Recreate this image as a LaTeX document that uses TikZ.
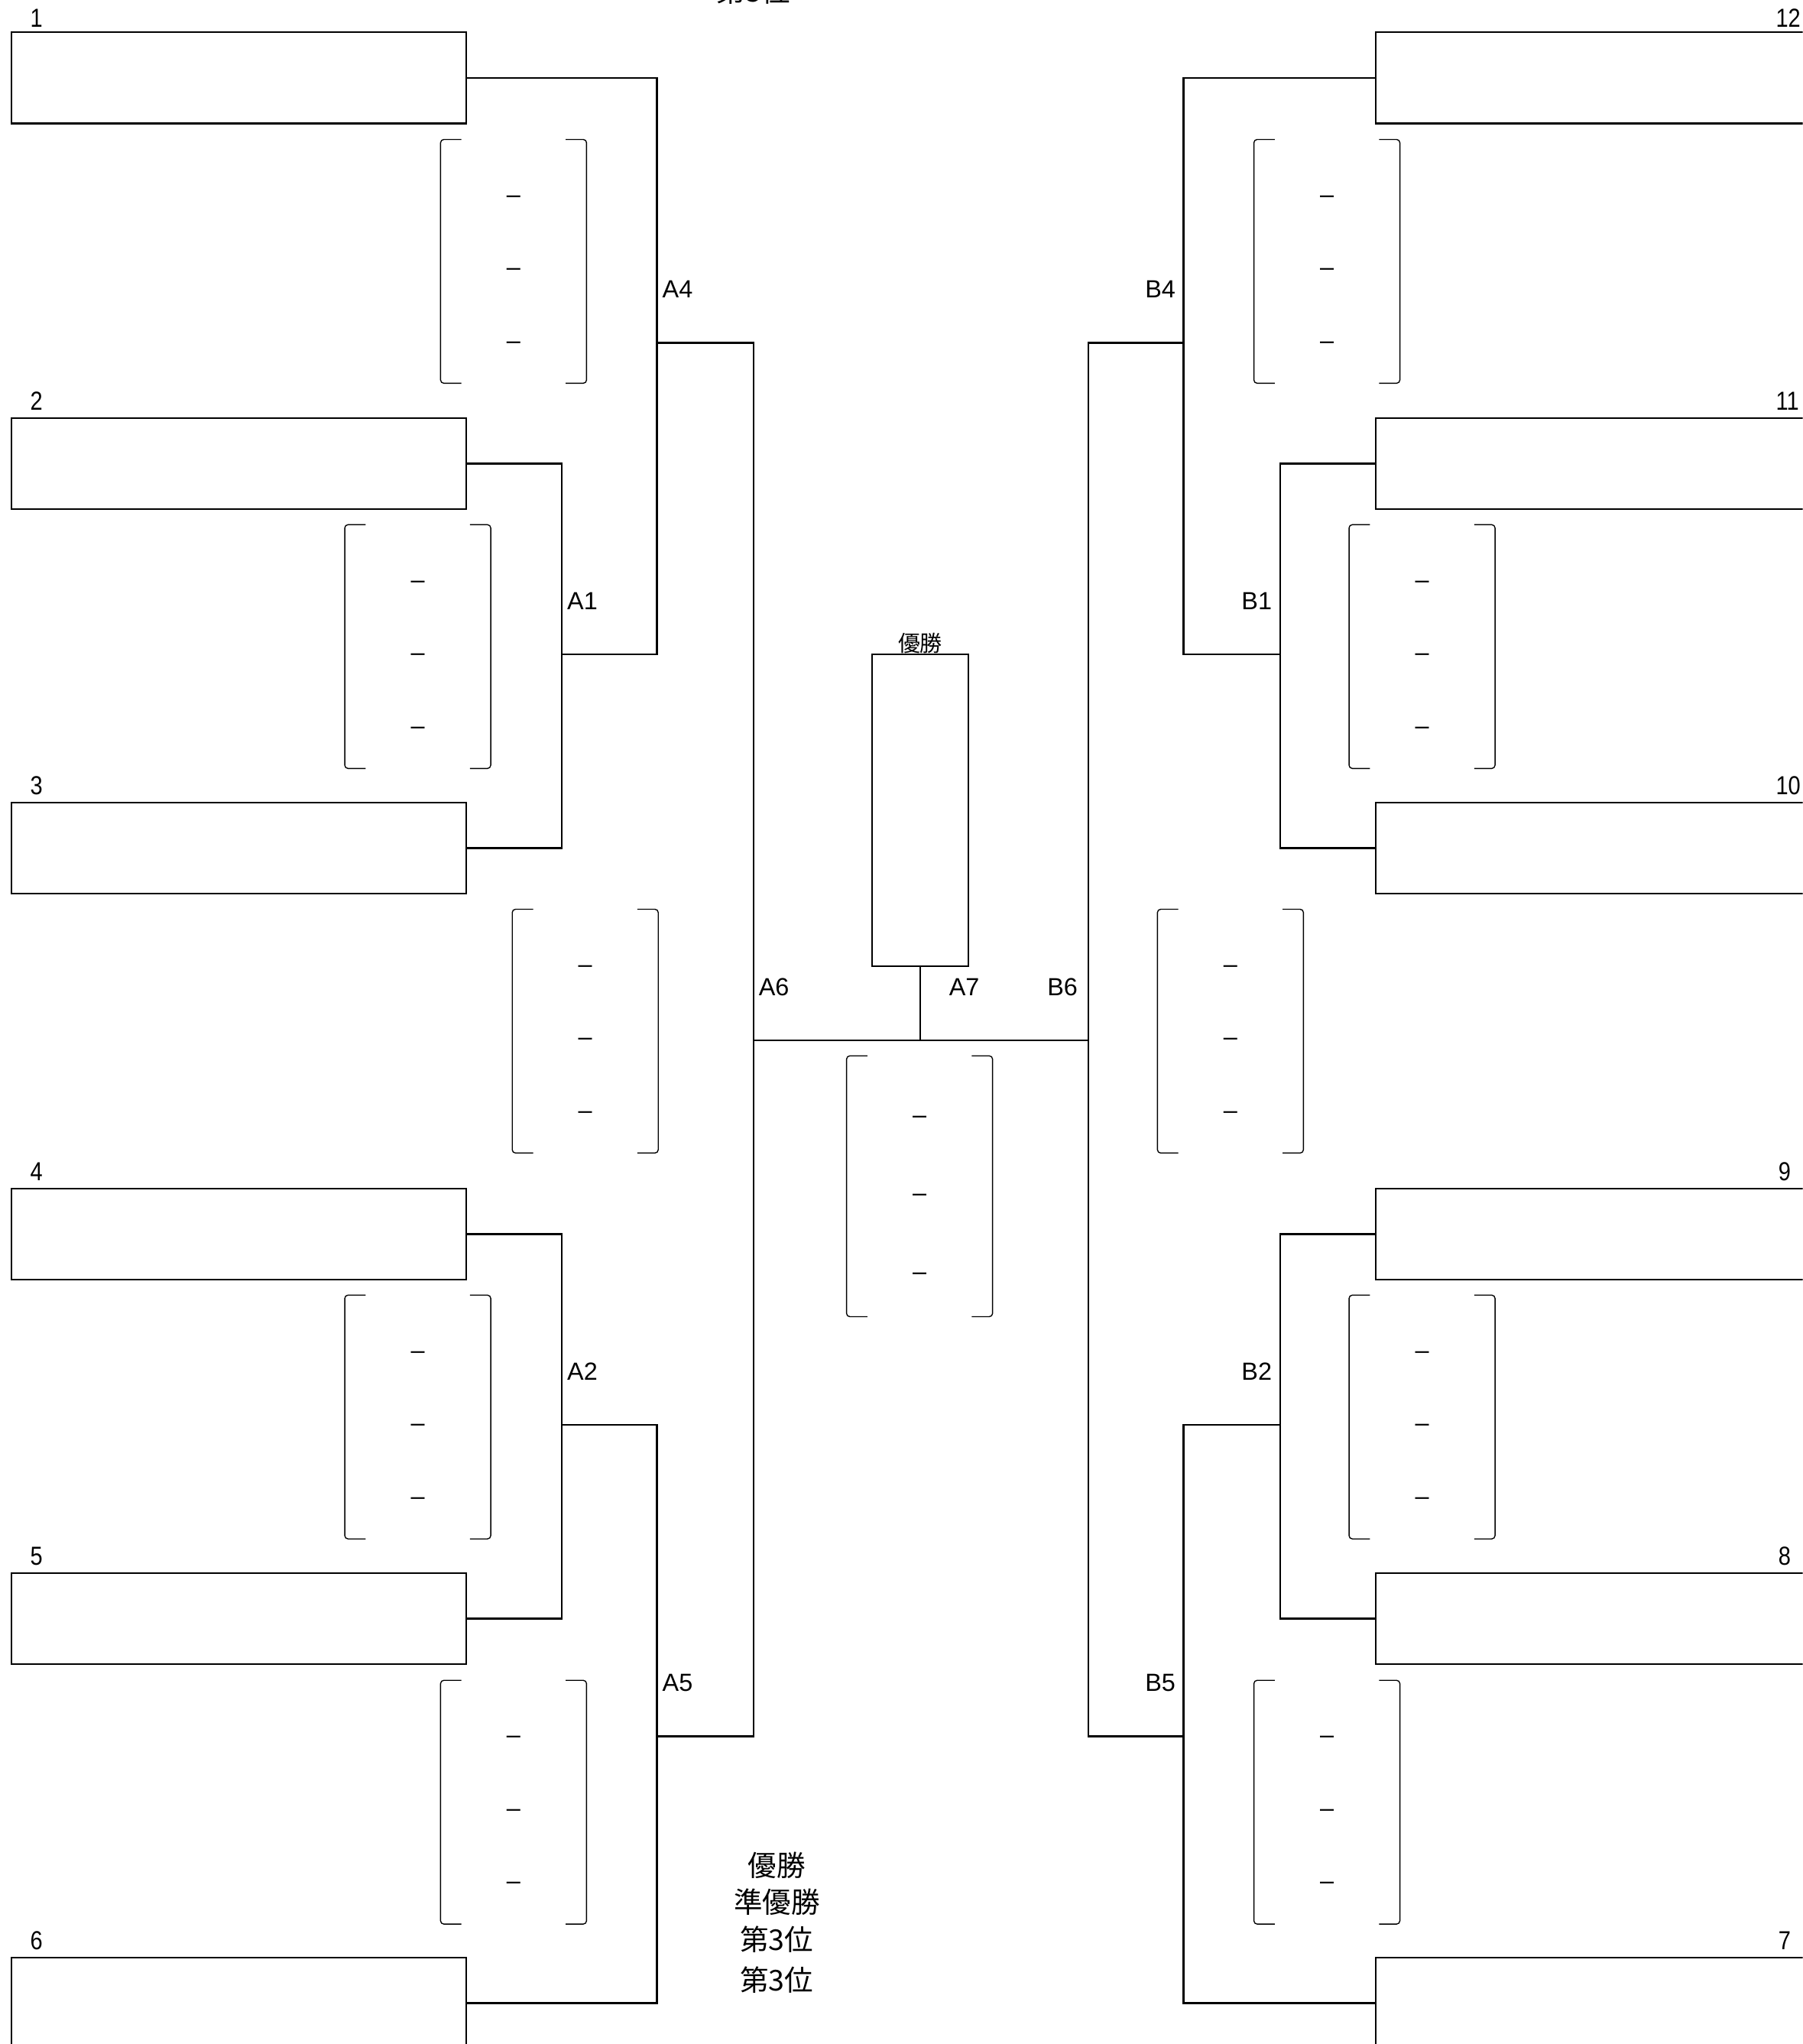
\documentclass[tikz,border=0pt]{standalone}
\usepackage{fontspec}
\setmainfont{Liberation Sans}
\newfontfamily\jpfont{Noto Sans CJK JP}
\newfontfamily\seedfont[FakeStretch=0.85]{Liberation Sans}
\usetikzlibrary{positioning, calc}

\begin{document}
\begin{tikzpicture}[
    x=1pt, y=-1pt,
    entry/.style={rectangle, draw, line width=1.3pt, minimum width=349pt, minimum height=70pt, inner sep=0pt, anchor=north west},
    champbox/.style={rectangle, draw, line width=1.3pt, minimum width=74pt, minimum height=239pt, inner sep=0pt},
    link/.style={draw, line width=1.3pt},
    bracketline/.style={draw, line width=0.8pt, rounded corners=2.5pt},
    scoredash/.style={font=\fontsize{19}{22}\selectfont, inner sep=0pt, anchor=base},
    roundlabel/.style={font=\fontsize{19}{22}\selectfont, inner sep=0pt},
    seedlabel/.style={font=\seedfont\fontsize{20}{24}\selectfont, inner sep=0pt},
    placetext/.style={font=\jpfont\fontsize{22}{26}\selectfont, inner sep=0pt},
    scorepair/.pic={
        \path [bracketline] (-40,-93.5) -- (-56,-93.5) -- (-56,93.5) -- (-40,93.5);
        \path [bracketline] (40,-93.5) -- (56,-93.5) -- (56,93.5) -- (40,93.5);
        \node [scoredash] (-g1) at (0,-45) {–};
        \node [scoredash] (-g2) at (0,11) {–};
        \node [scoredash] (-g3) at (0,67) {–};
    }
]
    \useasboundingbox (0,0) rectangle (1383,1568);
    \clip (0,0) rectangle (1383,1568);

    % Entries
    \node [entry] (p1) at (8,24) {};
    \node [entry] (p2) at (8,320) {};
    \node [entry] (p3) at (8,615) {};
    \node [entry] (p4) at (8,911) {};
    \node [entry] (p5) at (8,1206) {};
    \node [entry] (p6) at (8,1501) {};
    \node [entry] (p12) at (1055,24) {};
    \node [entry] (p11) at (1055,320) {};
    \node [entry] (p10) at (1055,615) {};
    \node [entry] (p9) at (1055,911) {};
    \node [entry] (p8) at (1055,1206) {};
    \node [entry] (p7) at (1055,1501) {};
    \node [champbox] (champ) at (706,621.5) {};

    % Seed numbers
    \node [seedlabel, anchor=south west] (n1) at ([xshift=15pt,yshift=3pt]p1.north west) {1};
    \node [seedlabel, anchor=south west] (n2) at ([xshift=15pt,yshift=5pt]p2.north west) {2};
    \node [seedlabel, anchor=south west] (n3) at ([xshift=15pt,yshift=5pt]p3.north west) {3};
    \node [seedlabel, anchor=south west] (n4) at ([xshift=15pt,yshift=5pt]p4.north west) {4};
    \node [seedlabel, anchor=south west] (n5) at ([xshift=15pt,yshift=5pt]p5.north west) {5};
    \node [seedlabel, anchor=south west] (n6) at ([xshift=15pt,yshift=5pt]p6.north west) {6};
    \node [seedlabel, anchor=south west] (n12) at ([xshift=-43pt,yshift=3pt]p12.north east) {12};
    \node [seedlabel, anchor=south west] (n11) at ([xshift=-43pt,yshift=5pt]p11.north east) {11};
    \node [seedlabel, anchor=south west] (n10) at ([xshift=-43pt,yshift=5pt]p10.north east) {10};
    \node [seedlabel, anchor=south west] (n9) at ([xshift=-41pt,yshift=5pt]p9.north east) {9};
    \node [seedlabel, anchor=south west] (n8) at ([xshift=-41pt,yshift=5pt]p8.north east) {8};
    \node [seedlabel, anchor=south west] (n7) at ([xshift=-41pt,yshift=5pt]p7.north east) {7};
    \node [placetext, font=\jpfont\fontsize{17}{20}\selectfont, above=0pt of champ] (champlabel) {優勝};

    % Match points
    \coordinate (A1) at (431,502);
    \coordinate (A2) at (431,1093);
    \coordinate (A4) at (504,263);
    \coordinate (A5) at (504,1332);
    \coordinate (A6) at (578,798);
    \coordinate (B1) at (982,502);
    \coordinate (B2) at (982,1093);
    \coordinate (B4) at (908,263);
    \coordinate (B5) at (908,1332);
    \coordinate (B6) at (835,798);
    \coordinate (A7) at (champ.south |- A6);

    % Lines
    \path [link] (p2.east) -| (A1) |- (p3.east);
    \path [link] (p1.east) -| (A4) |- (A1);
    \path [link] (p4.east) -| (A2) |- (p5.east);
    \path [link] (A2) -| (A5) |- (p6.east);
    \path [link] (A4) -| (A6) |- (A5);
    \path [link] (p11.west) -| (B1) |- (p10.west);
    \path [link] (p12.west) -| (B4) |- (B1);
    \path [link] (p9.west) -| (B2) |- (p8.west);
    \path [link] (B2) -| (B5) |- (p7.west);
    \path [link] (B4) -| (B6) |- (B5);
    \path [link] (A6) -- (B6);
    \path [link] (champ.south) -- (A7);

    % Match labels
    \node [roundlabel, anchor=west] (lA1) at ([xshift=4pt,yshift=41pt]A1) {A1};
    \node [roundlabel, anchor=west] (lA2) at ([xshift=4pt,yshift=41pt]A2) {A2};
    \node [roundlabel, anchor=west] (lA4) at ([xshift=4pt,yshift=41pt]A4) {A4};
    \node [roundlabel, anchor=west] (lA5) at ([xshift=4pt,yshift=41pt]A5) {A5};
    \node [roundlabel, anchor=west] (lA6) at ([xshift=4pt,yshift=41pt]A6) {A6};
    \node [roundlabel, anchor=west] (lA7) at ([xshift=22pt,yshift=41pt]A7) {A7};
    \node [roundlabel, anchor=east] (lB1) at ([xshift=-6pt,yshift=41pt]B1) {B1};
    \node [roundlabel, anchor=east] (lB2) at ([xshift=-6pt,yshift=41pt]B2) {B2};
    \node [roundlabel, anchor=east] (lB4) at ([xshift=-6pt,yshift=41pt]B4) {B4};
    \node [roundlabel, anchor=east] (lB5) at ([xshift=-6pt,yshift=41pt]B5) {B5};
    \node [roundlabel, anchor=east] (lB6) at ([xshift=-8pt,yshift=41pt]B6) {B6};

    % Score brackets
    \pic (sA4) at (394,200.5) {scorepair};
    \pic (sA1) at (320.5,496) {scorepair};
    \pic (sA6) at (449,791) {scorepair};
    \pic (sA2) at (320.5,1087) {scorepair};
    \pic (sA5) at (394,1382.5) {scorepair};
    \pic [yscale=1.07] (sA7) at (705.5,910) {scorepair};
    \pic (sB4) at (1018,200.5) {scorepair};
    \pic (sB1) at (1091,496) {scorepair};
    \pic (sB6) at (944,791) {scorepair};
    \pic (sB2) at (1091,1087) {scorepair};
    \pic (sB5) at (1018,1382.5) {scorepair};

    % Results
    \node [placetext] (top3) at (578,-7) {第3位};
    \node [placetext] (res1) at (596,1431) {優勝};
    \node [placetext] (res2) at (596,1459) {準優勝};
    \node [placetext] (res3) at (596,1488) {第3位};
    \node [placetext] (res4) at (596,1519) {第3位};
\end{tikzpicture}
\end{document}
